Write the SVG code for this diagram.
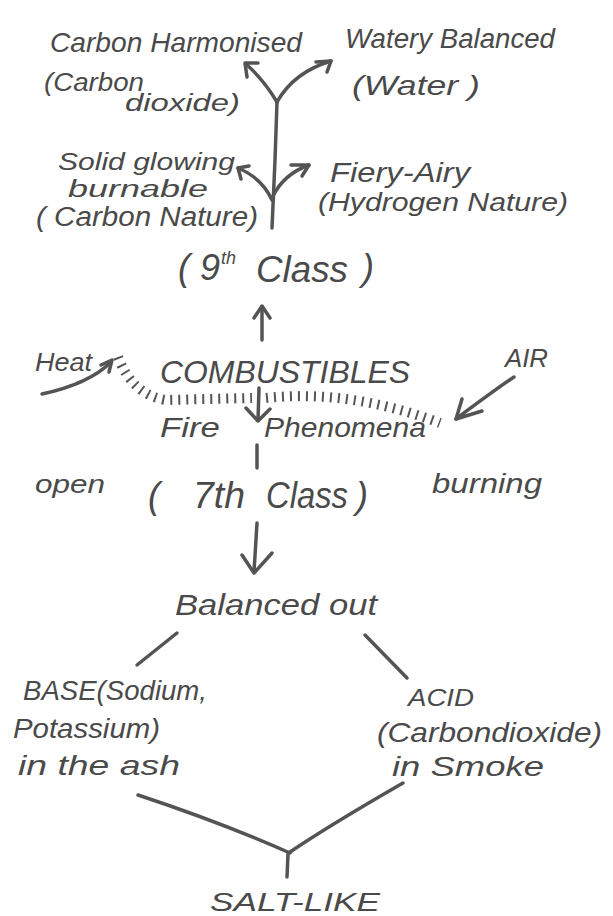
<svg xmlns="http://www.w3.org/2000/svg" width="613" height="916" viewBox="0 0 613 916">
<style>
  text { font-family: "Liberation Sans", "DejaVu Sans", sans-serif; font-style: italic; fill: #4a4a4a; }
  .c { fill: none; stroke: #545454; stroke-width: 3.5; stroke-linecap: round; stroke-linejoin: round; }
  .h { fill: none; stroke: #555555; stroke-width: 10; stroke-dasharray: 2 6; }
</style>
<rect width="613" height="916" fill="#ffffff"/>

<g id="connectors">
  <!-- top Y -->
  <path class="c" d="M272,228 L275,160 L277,102"/>
  <path class="c" d="M277,102 Q264,80 246,64"/>
  <path class="c" d="M258,63 L245,63 L247,77"/>
  <path class="c" d="M277,102 Q294,72 331,61"/>
  <path class="c" d="M316,62 L331,61 L327,72"/>
  <path class="c" d="M272,200 Q262,178 238,168"/>
  <path class="c" d="M249,166 L238,168 L241,179"/>
  <path class="c" d="M273,196 Q284,174 309,165"/>
  <path class="c" d="M291,165 L309,165 L302,176"/>
  <!-- up arrow to 9th class -->
  <path class="c" d="M262,340 L262,307"/>
  <path class="c" d="M254,318 L262,306 L270,318"/>
  <!-- heat arrow -->
  <path class="c" d="M42,394 C70,388 95,378 111,362"/>
  <path class="c" d="M101,365 L112,360 L109,372"/>
  <!-- hatch marks -->
  <path class="h" d="M118,357 Q132,394 165,400 L252,398"/>
  <path class="h" d="M266,398 Q350,389 440,423"/>
  <!-- combustibles down arrow -->
  <path class="c" d="M259,388 L258,420"/>
  <path class="c" d="M246,408 L258,421 L270,409"/>
  <!-- air arrow -->
  <path class="c" d="M514,377 Q492,392 456,419"/>
  <path class="c" d="M462,399 L456,419 L482,411"/>
  <!-- tick and down arrow -->
  <path class="c" d="M257,445 L257,468"/>
  <path class="c" d="M257,523 L254,572"/>
  <path class="c" d="M242,555 L254,573 L272,553"/>
  <!-- balanced out branches -->
  <path class="c" d="M177,633 L137,665"/>
  <path class="c" d="M365,635 L407,678"/>
  <!-- bottom Y -->
  <path class="c" d="M138,795 Q220,822 290,853"/>
  <path class="c" d="M403,783 Q330,825 290,852"/>
  <path class="c" d="M288,854 L287,877"/>
</g>

<g id="carbon-harmonised">
  <text x="50" y="52" font-size="28" textLength="252" lengthAdjust="spacingAndGlyphs">Carbon Harmonised</text>
  <text x="44" y="91" font-size="25" textLength="100" lengthAdjust="spacingAndGlyphs">(Carbon</text>
  <text x="125" y="111" font-size="24" textLength="115" lengthAdjust="spacingAndGlyphs">dioxide)</text>
</g>
<g id="watery-balanced">
  <text x="345" y="48" font-size="27" textLength="210" lengthAdjust="spacingAndGlyphs">Watery Balanced</text>
  <text x="352" y="95" font-size="28" textLength="128" lengthAdjust="spacingAndGlyphs">(Water )</text>
</g>
<g id="solid-glowing">
  <text x="58" y="170" font-size="24" textLength="177" lengthAdjust="spacingAndGlyphs">Solid glowing</text>
  <text x="68" y="197" font-size="23" textLength="140" lengthAdjust="spacingAndGlyphs">burnable</text>
  <text x="36" y="226" font-size="27" textLength="222" lengthAdjust="spacingAndGlyphs">( Carbon Nature)</text>
</g>
<g id="fiery-airy">
  <text x="330" y="182" font-size="28" textLength="140" lengthAdjust="spacingAndGlyphs">Fiery-Airy</text>
  <text x="318" y="211" font-size="26" textLength="250" lengthAdjust="spacingAndGlyphs">(Hydrogen Nature)</text>
</g>
<g id="ninth-class">
  <text x="178" y="280" font-size="36">(<tspan x="200">9</tspan><tspan x="221" y="264" font-size="18">th</tspan><tspan x="256" y="282" textLength="92" lengthAdjust="spacingAndGlyphs">Class</tspan><tspan x="362" y="280">)</tspan></text>
</g>
<g id="heat">
  <text x="35" y="371" font-size="26" textLength="57" lengthAdjust="spacingAndGlyphs">Heat</text>
</g>
<g id="combustibles">
  <text x="160" y="383" font-size="32" textLength="250" lengthAdjust="spacingAndGlyphs">COMBUSTIBLES</text>
</g>
<g id="air">
  <text x="505" y="367" font-size="26" textLength="43" lengthAdjust="spacingAndGlyphs">AIR</text>
</g>
<g id="fire-phenomena">
  <text x="160" y="437" font-size="28" textLength="60" lengthAdjust="spacingAndGlyphs">Fire</text>
  <text x="264" y="437" font-size="28" textLength="162" lengthAdjust="spacingAndGlyphs">Phenomena</text>
</g>
<g id="open">
  <text x="35" y="493" font-size="26" textLength="70" lengthAdjust="spacingAndGlyphs">open</text>
</g>
<g id="burning">
  <text x="432" y="493" font-size="28" textLength="110" lengthAdjust="spacingAndGlyphs">burning</text>
</g>
<g id="seventh-class">
  <text x="148" y="508" font-size="36">(<tspan x="193" textLength="52" lengthAdjust="spacingAndGlyphs">7th</tspan><tspan x="266" textLength="82" lengthAdjust="spacingAndGlyphs">Class</tspan><tspan x="356">)</tspan></text>
</g>
<g id="balanced-out">
  <text x="175" y="615" font-size="30" textLength="202" lengthAdjust="spacingAndGlyphs">Balanced out</text>
</g>
<g id="base">
  <text x="23" y="700" font-size="28" textLength="184" lengthAdjust="spacingAndGlyphs">BASE(Sodium,</text>
  <text x="13" y="738" font-size="28" textLength="147" lengthAdjust="spacingAndGlyphs">Potassium)</text>
  <text x="18" y="775" font-size="28" textLength="162" lengthAdjust="spacingAndGlyphs">in the ash</text>
</g>
<g id="acid">
  <text x="408" y="706" font-size="24" textLength="66" lengthAdjust="spacingAndGlyphs">ACID</text>
  <text x="377" y="742" font-size="28" textLength="225" lengthAdjust="spacingAndGlyphs">(Carbondioxide)</text>
  <text x="392" y="776" font-size="28" textLength="152" lengthAdjust="spacingAndGlyphs">in Smoke</text>
</g>
<g id="salt-like">
  <text x="210" y="911" font-size="26" textLength="170" lengthAdjust="spacingAndGlyphs">SALT-LIKE</text>
</g>
</svg>
